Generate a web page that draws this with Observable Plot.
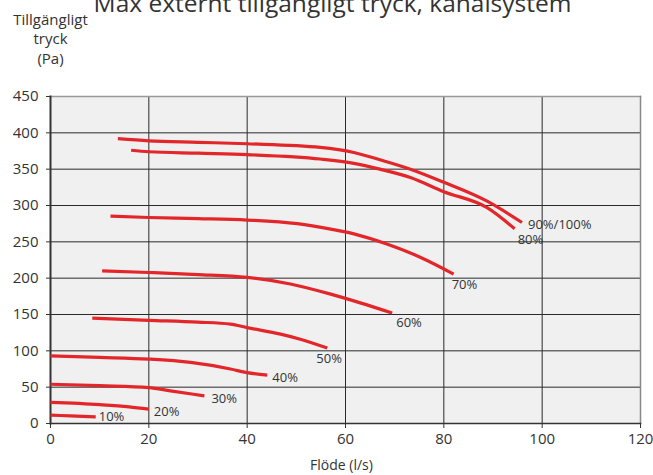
<!DOCTYPE html>
<html>
<head>
<meta charset="utf-8">
<script src="https://cdn.jsdelivr.net/npm/d3@7"></script>
<script src="https://cdn.jsdelivr.net/npm/@observablehq/plot@0.6"></script>
<style>
  body { margin: 0; background: #fff; }
  #chart svg { font-family: "Open Sans", "Noto Sans", sans-serif; }
</style>
</head>
<body>
<div id="chart"></div>
<script>
const title = "Max externt tillgängligt tryck, kanalsystem";
const yLabel = "Tillgängligt\ntryck\n(Pa)";
const xLabel = "Flöde (l/s)";
const xTicks = [0, 20, 40, 60, 80, 100, 120];
const yTicks = [0, 50, 100, 150, 200, 250, 300, 350, 400, 450];

const seriesNames = ["10%", "20%", "30%", "40%", "50%", "60%", "70%", "80%", "90%/100%"];

const flow10 = [0, 4, 9.2];
const pres10 = [11.5, 10.5, 9.2];
const flow20 = [0, 10, 16, 20];
const pres20 = [29, 26, 23, 19.8];
const flow30 = [0, 10, 20, 24.4, 31.3];
const pres30 = [54, 52, 49.5, 45, 38];
const flow40 = [0, 10, 20, 28.5, 36.6, 40, 44.1];
const pres40 = [93, 91, 88.6, 84, 75, 70, 66.6];
const flow50 = [8.5, 20, 30, 36.6, 40, 46.8, 50.8, 56.3];
const pres50 = [145, 142, 139.5, 136.8, 132, 123, 116, 103.8];
const flow60 = [10.5, 20, 30, 40, 48.8, 57, 63, 69.5];
const pres60 = [210, 207.8, 205, 201, 192, 178, 166, 152];
const flow70 = [12.2, 20, 30, 40, 50.2, 57, 61.7, 68.4, 75.3, 82];
const pres70 = [285.4, 283.5, 282, 280, 275, 267.5, 261, 247, 228.5, 205.6];
const flow80 = [16.4, 20, 30, 40, 54.9, 61.7, 67, 73.2, 80, 88.8, 94.4];
const pres80 = [376, 374, 372, 370, 364, 358, 350, 338.5, 319, 297, 268];
const flow90 = [13.7, 20, 30, 40, 54.9, 61.7, 67, 73.2, 80, 88.8, 95.9];
const pres90 = [392, 389, 387, 385, 380, 373, 363, 350, 332, 306, 276.6];

const flows = [flow10, flow20, flow30, flow40, flow50, flow60, flow70, flow80, flow90];
const pressures = [pres10, pres20, pres30, pres40, pres50, pres60, pres70, pres80, pres90];

// label placement relative to each curve's end point (styling only)
const labelDx = [3, 5, 7, 5, -11, 4, -2, 3, 6];
const labelDy = [0, 3, 3, 3, 11, 10, 11, 11, 2];

const rows = seriesNames.flatMap((s, i) =>
  flows[i].map((f, j) => ({series: s, x: f, y: pressures[i][j]}))
);
const ends = seriesNames.map((s, i) => ({
  series: s,
  x: flows[i][flows[i].length - 1],
  y: pressures[i][pressures[i].length - 1],
  dx: labelDx[i],
  dy: labelDy[i]
}));

const textColor = "#333";

const chart = Plot.plot({
  width: 653,
  height: 475,
  marginLeft: 50,
  marginRight: 13,
  marginTop: 96,
  marginBottom: 52,
  style: {fontFamily: "'Open Sans', 'Noto Sans', sans-serif", background: "#fff"},
  x: {domain: [0, 120]},
  y: {domain: [0, 450]},
  marks: [
    Plot.frame({fill: "#f0f0f0", stroke: null}),
    Plot.gridX(xTicks.slice(1, -1), {stroke: "#2a2a2a", strokeOpacity: 1, strokeWidth: 1}),
    Plot.gridY(yTicks.slice(1, -1), {stroke: "#2a2a2a", strokeOpacity: 1, strokeWidth: 1}),
    Plot.frame({anchor: "top", stroke: "#999", strokeWidth: 1.5}),
    Plot.frame({anchor: "right", stroke: "#888", strokeWidth: 1.5}),
    Plot.frame({anchor: "left", stroke: "#333", strokeWidth: 2}),
    Plot.frame({anchor: "bottom", stroke: "#333", strokeWidth: 1.5}),
    Plot.axisX({ticks: xTicks, tickSize: 5, tickPadding: 5, fontSize: 15, fill: textColor, stroke: "#333", label: null}),
    Plot.axisY({ticks: yTicks, tickSize: 4, tickPadding: 8, fontSize: 15, fill: textColor, stroke: "#333", label: null}),
    Plot.line(rows, {x: "x", y: "y", z: "series", stroke: "#e3262a", strokeWidth: 3.2, curve: "monotone-x", strokeLinecap: "butt"}),
    ...ends.map(e => Plot.text([e], {x: "x", y: "y", text: "series", textAnchor: "start", dx: e.dx, dy: e.dy, fontSize: 13, fill: textColor})),
    Plot.text([title], {frameAnchor: "top", dx: -13, dy: -85, lineAnchor: "bottom", fontSize: 24.5, fill: textColor, text: d => d}),
    Plot.text([yLabel], {frameAnchor: "top-left", dx: 0, dy: -85, lineAnchor: "top", textAnchor: "middle", fontSize: 15, lineHeight: 1.28, fill: textColor, text: d => d}),
    Plot.text([xLabel], {frameAnchor: "bottom", dx: -4, dy: 42, lineAnchor: "middle", fontSize: 14, fill: textColor, text: d => d})
  ]
});
document.getElementById("chart").appendChild(chart);
</script>
</body>
</html>
